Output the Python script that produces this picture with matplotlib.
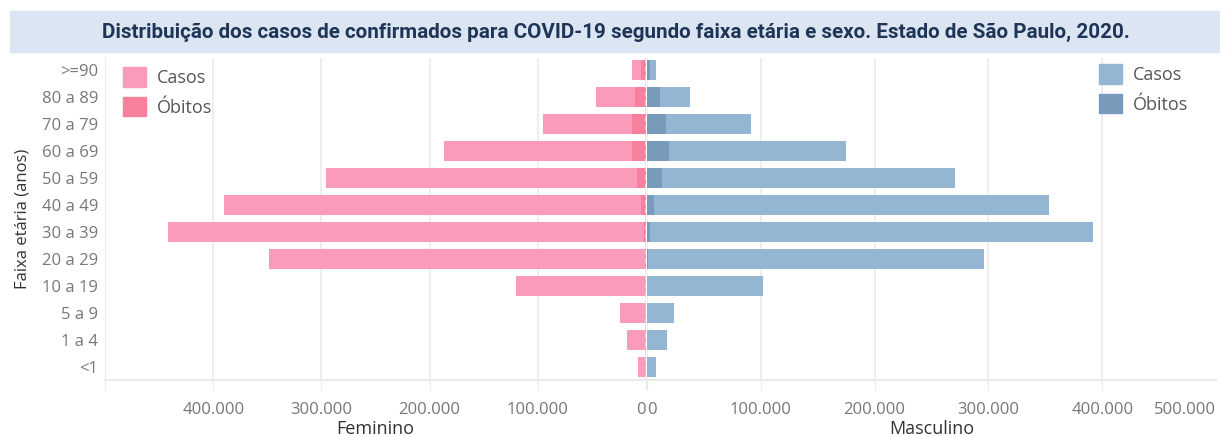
import matplotlib.pyplot as plt
from matplotlib.patches import Patch, Rectangle

faixas = ["<1", "1 a 4", "5 a 9", "10 a 19", "20 a 29", "30 a 39", "40 a 49",
          "50 a 59", "60 a 69", "70 a 79", "80 a 89", ">=90"]

fem_casos = [7500, 18000, 24000, 120000, 348000, 442000, 390000, 296000, 187000, 95000, 46000, 13000]
fem_obitos = [200, 100, 100, 300, 700, 2000, 4500, 8300, 13000, 13000, 10000, 5000]
mas_casos = [8000, 18000, 24000, 102000, 296000, 392000, 353000, 271000, 175000, 91000, 38000, 8000]
mas_obitos = [200, 100, 100, 300, 1000, 3000, 6000, 13000, 19000, 17000, 11000, 3000]

ticks = [0, 100000, 200000, 300000, 400000, 500000]

c_fem_casos = "#FA9BBA"
c_fem_obitos = "#F7809C"
c_mas_casos = "#94B6D2"
c_mas_obitos = "#789ABB"
grid_c = "#EBEBEB"
tick_c = "#777777"
text_c = "#333333"

plt.rcParams['font.family'] = ['Open Sans', 'DejaVu Sans']


def fmt(v):
    return "{:,}".format(int(v)).replace(",", ".")


fig = plt.figure(figsize=(12.2, 4.36), dpi=100)

# faixa do título
fig.patches.append(Rectangle((10 / 1220, 1 - 52 / 436), 1210 / 1220, 41 / 436,
                             transform=fig.transFigure, color="#DCE6F2", zorder=0))
fig.text(616 / 1220, 1 - 32 / 436,
         "Distribuição dos casos de confirmados para COVID-19 segundo faixa etária e sexo. Estado de São Paulo, 2020.",
         ha="center", va="center", fontsize=14.9, fontweight="bold", color="#1F3557",
         family=['Roboto', 'DejaVu Sans'])

bottom = 1 - 380 / 436
height = 322 / 436
axL = fig.add_axes([105 / 1220, bottom, 541 / 1220, height])
axR = fig.add_axes([647 / 1220, bottom, 569 / 1220, height])

y = list(range(len(faixas)))
bh = 0.74

axL.barh(y, fem_casos, height=bh, color=c_fem_casos, zorder=2)
axL.barh(y, fem_obitos, height=bh, color=c_fem_obitos, zorder=3)
axR.barh(y, mas_casos, height=bh, color=c_mas_casos, zorder=2)
axR.barh(y, mas_obitos, height=bh, color=c_mas_obitos, zorder=3)

for ax in (axL, axR):
    ax.set_ylim(-0.48, 11.44)
    ax.set_xlim(0, 500000)
    ax.set_xticks(ticks)
    ax.set_xticklabels([fmt(t) for t in ticks])
    for s in ax.spines.values():
        s.set_visible(False)
    ax.grid(axis="x", color=grid_c, linewidth=1.2, zorder=0)
    ax.axhline(-0.48, color=grid_c, linewidth=1.5, zorder=1, clip_on=False)
    ax.tick_params(axis="x", length=7, color=grid_c, labelsize=12, labelcolor=tick_c, pad=9)

axL.invert_xaxis()
axL.set_yticks(y)
axL.set_yticklabels(faixas)
axL.tick_params(axis="y", length=0, labelsize=12, labelcolor=tick_c, pad=5)
axL.axvline(500000, color=grid_c, linewidth=1.2, zorder=1)
axL.axvline(0, color="#DDDDDD", linewidth=1.2, linestyle=(0, (3, 2)), zorder=4)
axL.set_ylabel("Faixa etária (anos)", fontsize=12, color=text_c, labelpad=8)
axL.set_xlabel("Feminino", fontsize=13, color=text_c, labelpad=1)
labsL = axL.get_xticklabels()
labsL[-1].set_visible(False)
labsL[0].set_horizontalalignment("right")

axR.set_yticks([])
axR.set_xlabel("Masculino", fontsize=13, color=text_c, labelpad=1)
labsR = axR.get_xticklabels()
labsR[0].set_horizontalalignment("left")
labsR[-1].set_horizontalalignment("right")
axR.get_xgridlines()[-1].set_visible(False)
axR.xaxis.get_major_ticks()[-1].tick1line.set_visible(False)

leg_kw = dict(frameon=False, fontsize=13, handlelength=1.3, handleheight=1.3,
              labelcolor="#555555", borderaxespad=0, borderpad=0,
              labelspacing=0.55, handletextpad=0.6, loc="upper left")
axL.legend(handles=[Patch(color=c_fem_casos, label="Casos"), Patch(color=c_fem_obitos, label="Óbitos")],
           bbox_to_anchor=(18 / 541, 313 / 322), **leg_kw)
axR.legend(handles=[Patch(color=c_mas_casos, label="Casos"), Patch(color=c_mas_obitos, label="Óbitos")],
           bbox_to_anchor=(452 / 569, 316 / 322), **leg_kw)

fig.savefig("out.png", dpi=100)
